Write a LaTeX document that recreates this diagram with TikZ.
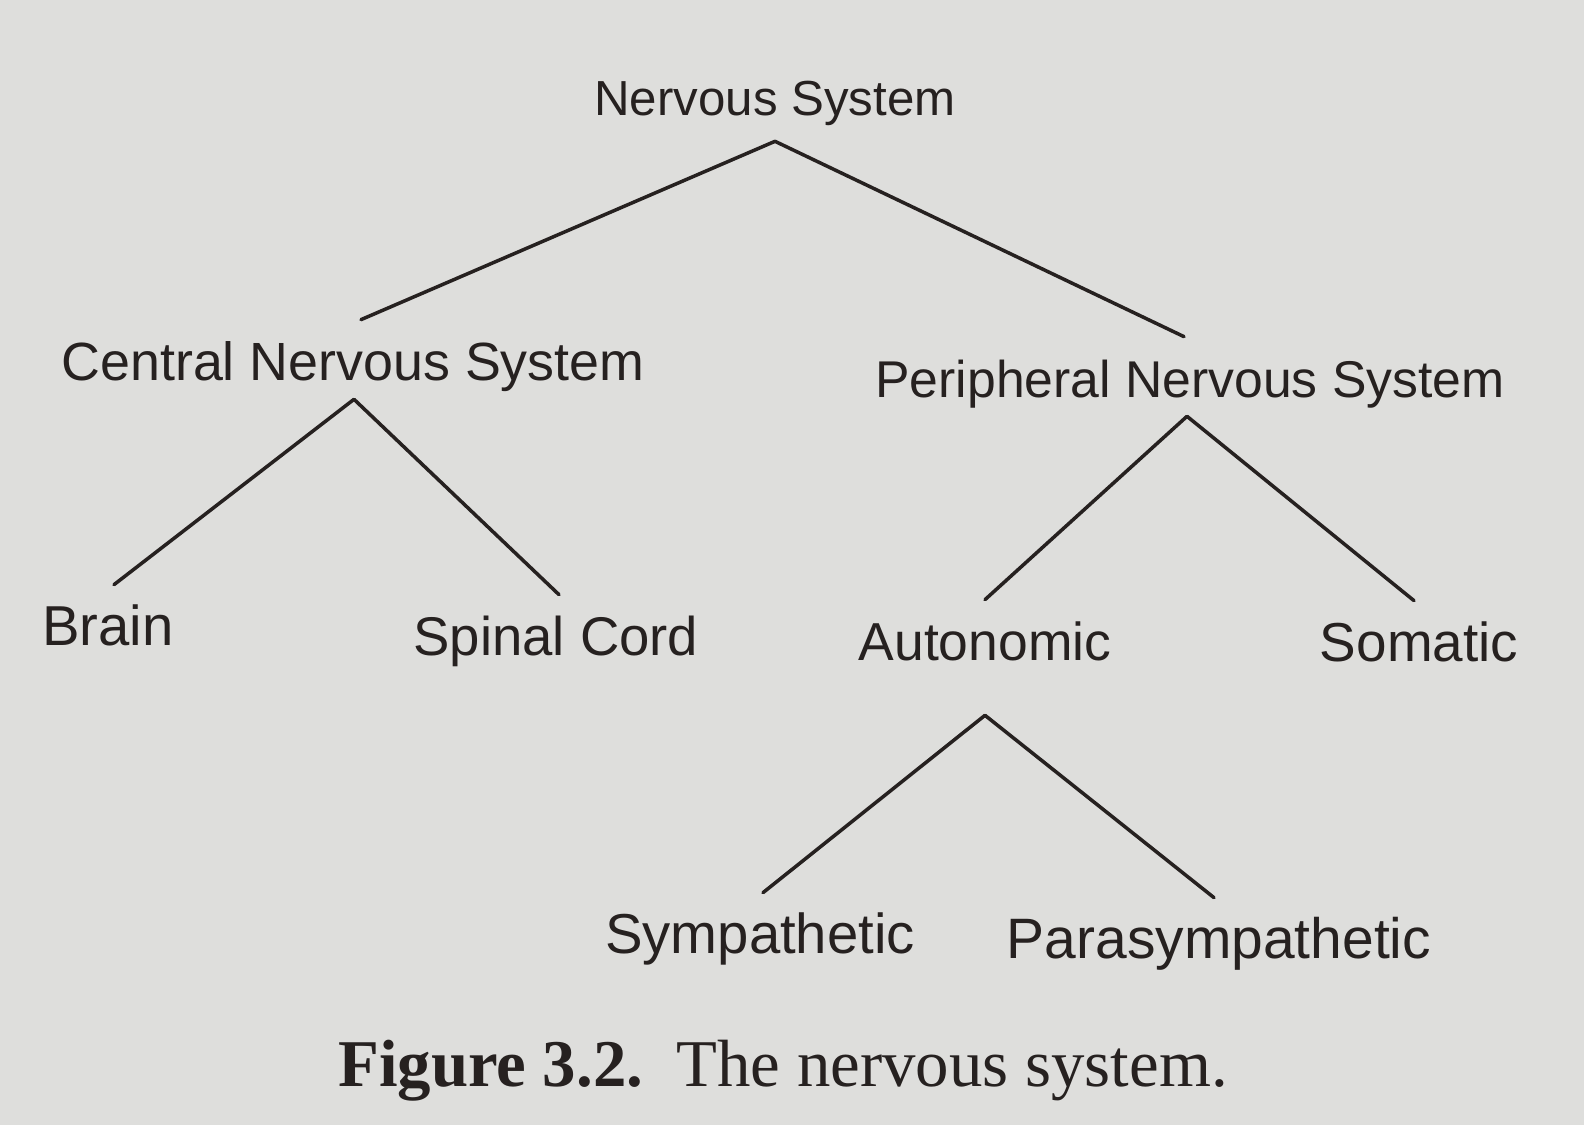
\documentclass[tikz,border=0pt]{standalone}
\usepackage{fontspec}
\setmainfont{Liberation Serif}
\setsansfont{Liberation Sans}
\usetikzlibrary{calc, positioning}

\definecolor{paper}{HTML}{DEDEDC}
\definecolor{ink}{HTML}{262120}

\begin{document}
\begin{tikzpicture}[x=0.01cm, y=-0.01cm]
    \def\endgap{0.21cm}

    \tikzset{
        term/.style={inner sep=0pt, text=ink, text height=11pt, text depth=3pt,
            font=\sffamily\fontsize{#1}{20pt}\selectfont},
        term/.default=15.5pt,
        branch/.style={draw=ink, line width=1pt, line cap=round, line join=miter}
    }

    % page
    \fill[paper] (0,0) rectangle (1584,1125);
    \useasboundingbox (0,0) rectangle (1584,1125);

    % terms
    \node (ns) [term=14pt] at (775, 101) {Nervous System};
    \node (cns) [term=15.3pt] at (353, 366) {Central Nervous System};
    \node (pns) [term=14.7pt] at (1190, 383) {Peripheral Nervous System};
    \node (brain) [term=16pt] at (108, 631) {Brain};
    \node (cord) [term] at (556, 641) {Spinal Cord};
    \node (auto) [term=15.2pt] at (985, 646) {Autonomic};
    \node (soma) [term=15.6pt] at (1419, 647) {Somatic};
    \node (symp) [term=16pt] at (760, 939) {Sympathetic};
    \node (para) [term=16.2pt] at (1219, 944) {Parasympathetic};

    % forks under the parents
    \coordinate (ns-fork) at ($(ns.south) + (0, 15)$);
    \coordinate (cns-fork) at ($(cns.south) + (1, 8)$);
    \coordinate (pns-fork) at ($(pns.south) + (-3, 8)$);
    \coordinate (auto-fork) at ($(auto.south) + (0, 44)$);

    % branches, the end leans a little towards the parent
    \foreach \p/\c/\dx in {ns/cns/8, ns/pns/-6, cns/brain/6, cns/cord/3,
                           pns/auto/0, pns/soma/-5, auto/symp/3, auto/para/-5} {
        \draw [branch] (\p-fork) -- ([xshift=\dx*0.01cm, yshift=\endgap]\c.north);
    }

    % caption
    \node (caption) [text=ink, inner sep=0pt, font=\fontsize{19pt}{23pt}\selectfont]
        at (783, 1071) {\textbf{Figure 3.2.}\ \ The nervous system.};
\end{tikzpicture}
\end{document}
